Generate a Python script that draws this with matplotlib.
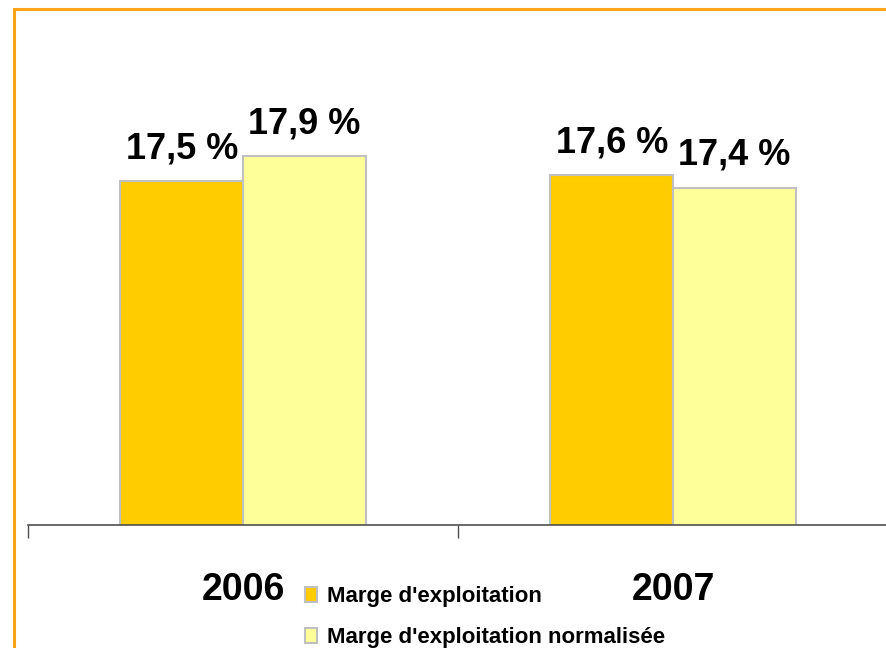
import matplotlib
matplotlib.use("Agg")
import matplotlib.pyplot as plt
from matplotlib.patches import Rectangle
from matplotlib import font_manager

years = ["2006", "2007"]
marge = [17.5, 17.6]
marge_norm = [17.9, 17.4]
labels_marge = ["17,5 %", "17,6 %"]
labels_norm = ["17,9 %", "17,4 %"]
series_names = ["Marge d'exploitation", "Marge d'exploitation normalisée"]

names = {f.name for f in font_manager.fontManager.ttflist}
narrow = "Liberation Sans Narrow" if "Liberation Sans Narrow" in names else "Liberation Sans"

W, H = 886, 648
fig = plt.figure(figsize=(W / 100, H / 100), dpi=100)
fig.patch.set_facecolor("white")

# orange frame around the chart
fig.patches.append(Rectangle((13.5 / W, -0.05), 1.2, 1.05 - 9.5 / H,
                             transform=fig.transFigure, fill=False,
                             edgecolor="#FFA31A", linewidth=2.2))

left, right, bottom, top = 28, 888, 525, 25
ax = fig.add_axes([left / W, (H - bottom) / H, (right - left) / W, (bottom - top) / H])
ax.set_facecolor("none")

x = list(range(len(years)))
bw = 0.285
b1 = ax.bar([i - bw / 2 for i in x], marge, width=bw, color="#FFCC00",
            edgecolor="#C0C0C0", linewidth=1.5, label=series_names[0])
b2 = ax.bar([i + bw / 2 for i in x], marge_norm, width=bw, color="#FFFF99",
            edgecolor="#C0C0C0", linewidth=1.5, label=series_names[1])

ax.set_ylim(12, 20)
ax.set_xlim(-0.5, 1.5)

for bars, labs in ((b1, labels_marge), (b2, labels_norm)):
    for rect, lab in zip(bars, labs):
        ax.annotate(lab, (rect.get_x() + rect.get_width() / 2, rect.get_height()),
                    xytext=(0, 16.5), textcoords="offset points",
                    ha="center", va="baseline", fontsize=26, fontweight="bold",
                    family=narrow)

for s in ("left", "right", "top"):
    ax.spines[s].set_visible(False)
ax.spines["bottom"].set_color("#505050")
ax.spines["bottom"].set_linewidth(1.2)

ax.set_yticks([])
ax.set_xticks([-0.5, 0.5, 1.5])
ax.set_xticklabels([])
ax.tick_params(axis="x", direction="out", length=9.5, width=1.0, color="#505050")

for i, yr in enumerate(years):
    ax.text(i, -0.15, yr, transform=ax.get_xaxis_transform(), ha="center",
            va="baseline", fontsize=27, fontweight="bold", family=narrow)

leg = fig.legend(handles=[b1, b2], labels=series_names, loc="upper left",
                 bbox_to_anchor=(305 / W, (H - 586) / H), frameon=False,
                 prop={"family": "Liberation Sans", "weight": "bold", "size": 16},
                 handlelength=0.55, handleheight=0.68, handletextpad=0.45,
                 labelspacing=0.9, borderpad=0, borderaxespad=0)

fig.savefig("out.png", dpi=100)
